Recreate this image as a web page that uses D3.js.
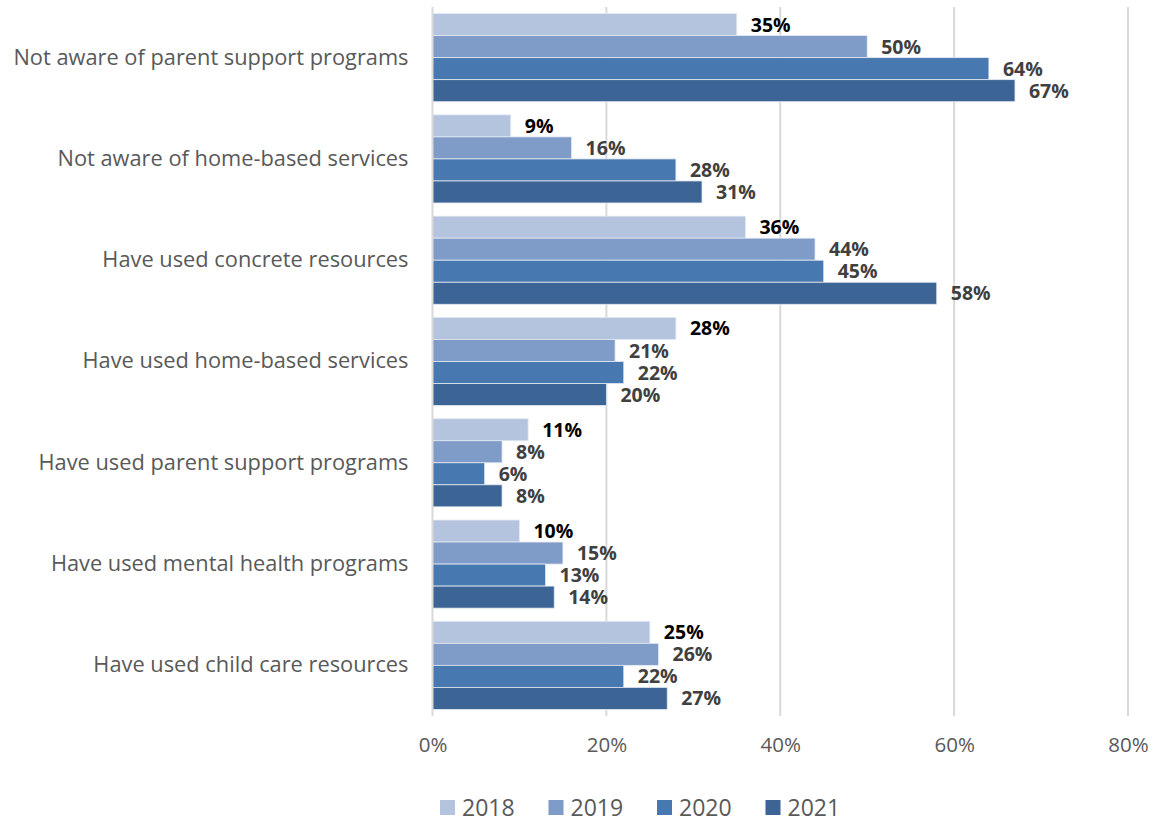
<!DOCTYPE html>
<html>
<head>
<meta charset="utf-8">
<script src="https://cdn.jsdelivr.net/npm/d3@7/dist/d3.min.js"></script>
<style>
  body { margin: 0; background: #fff; }
  svg { font-family: "Open Sans", sans-serif; }
</style>
</head>
<body>
<div id="chart"></div>
<script>
var categories = [
  "Not aware of parent support programs",
  "Not aware of home-based services",
  "Have used concrete resources",
  "Have used home-based services",
  "Have used parent support programs",
  "Have used mental health programs",
  "Have used child care resources"
];
var years = ["2018", "2019", "2020", "2021"];
var colors = ["#b4c3de", "#7f9cc8", "#4878b0", "#3c6495"];
var values2018 = [35, 9, 36, 28, 11, 10, 25];
var values2019 = [50, 16, 44, 21, 8, 15, 26];
var values2020 = [64, 28, 45, 22, 6, 13, 22];
var values2021 = [67, 31, 58, 20, 8, 14, 27];
var xTicks = [0, 20, 40, 60, 80];

var series = [values2018, values2019, values2020, values2021];

var width = 1156, height = 823;
var svg = d3.select("#chart").append("svg")
  .attr("width", width)
  .attr("height", height);

var x = d3.scaleLinear().domain([0, 80]).range([432.5, 1128]);
var y0 = d3.scaleBand().domain(categories).range([7, 716])
  .paddingInner(0.13).paddingOuter(0.065);
var y1 = d3.scaleBand().domain(years).range([0, y0.bandwidth()]);

// gridlines
svg.append("g")
  .selectAll("line")
  .data(xTicks.slice(1))
  .enter().append("line")
  .attr("x1", function (d) { return x(d); })
  .attr("x2", function (d) { return x(d); })
  .attr("y1", 7)
  .attr("y2", 716)
  .attr("stroke", "#d9d9d9")
  .attr("stroke-width", 2);

// bars
var groups = svg.append("g")
  .selectAll("g")
  .data(categories)
  .enter().append("g")
  .attr("transform", function (d) { return "translate(0," + y0(d) + ")"; });

groups.each(function (cat, ci) {
  var g = d3.select(this);
  years.forEach(function (yr, si) {
    var v = series[si][ci];
    g.append("rect")
      .attr("x", x(0))
      .attr("y", y1(yr))
      .attr("width", x(v) - x(0))
      .attr("height", y1.bandwidth())
      .attr("fill", colors[si])
      .attr("stroke", "#e4e9f2")
      .attr("stroke-width", 0.8);
    g.append("text")
      .attr("x", x(v) + 14)
      .attr("y", y1(yr) + y1.bandwidth() / 2)
      .attr("dy", "0.36em")
      .attr("font-size", "19.5px")
      .attr("font-weight", "bold")
      .attr("fill", si === 0 ? "#000000" : "#404040")
      .text(v + "%");
  });
});

// y axis line
svg.append("line")
  .attr("x1", x(0)).attr("x2", x(0))
  .attr("y1", 7).attr("y2", 716)
  .attr("stroke", "#d9d9d9")
  .attr("stroke-width", 2);

// category labels
var yAxis = d3.axisLeft(y0).tickSize(0).tickPadding(24);
var yg = svg.append("g")
  .attr("transform", "translate(" + x(0) + ",0)")
  .call(yAxis);
yg.select(".domain").remove();
yg.selectAll("text")
  .attr("font-family", "Open Sans")
  .attr("font-size", "21.8px")
  .attr("fill", "#595959");

// x axis labels
var xAxis = d3.axisBottom(x).tickValues(xTicks).tickSize(0).tickPadding(21)
  .tickFormat(function (d) { return d + "%"; });
var xg = svg.append("g")
  .attr("transform", "translate(0,716)")
  .call(xAxis);
xg.select(".domain").remove();
xg.selectAll("text")
  .attr("font-family", "Open Sans")
  .attr("font-size", "20.5px")
  .attr("fill", "#595959");

// legend
var legend = svg.append("g")
  .selectAll("g")
  .data(years)
  .enter().append("g")
  .attr("transform", function (d, i) { return "translate(" + (440 + i * 108.5) + ",800)"; });
legend.append("rect")
  .attr("width", 15).attr("height", 15)
  .attr("fill", function (d, i) { return colors[i]; });
legend.append("text")
  .attr("x", 22)
  .attr("y", 8)
  .attr("dy", "0.36em")
  .attr("font-size", "23px")
  .attr("fill", "#595959")
  .text(function (d) { return d; });
</script>
</body>
</html>
